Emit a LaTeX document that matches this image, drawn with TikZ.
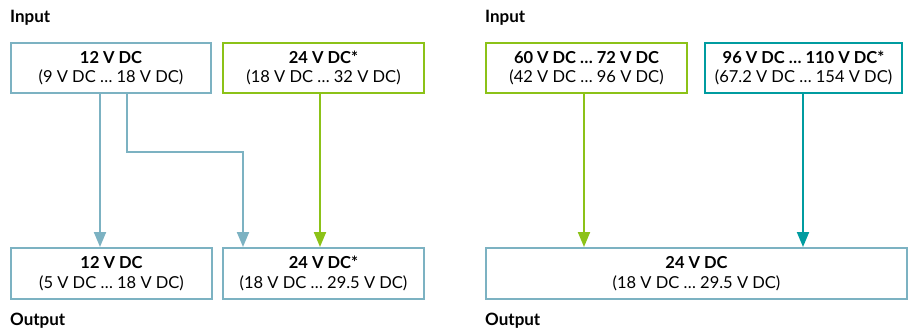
\documentclass[tikz,border=0pt]{standalone}
\usepackage{fontspec}
\setmainfont{Lato}
\usepackage{tikz}
\usetikzlibrary{positioning, arrows.meta, calc}
\definecolor{LineBlue}{RGB}{124, 178, 194}
\definecolor{LineGreen}{RGB}{140, 194, 24}
\definecolor{LineTeal}{RGB}{0, 156, 160}

\begin{document}
\begin{tikzpicture}[
    x=1pt, y=-1pt,
    box/.style={rectangle, draw, line width=2pt, minimum height=50pt, inner sep=0pt,
      align=center, font=\fontsize{16.5}{19.5}\selectfont},
    bluebox/.style={box, draw=LineBlue},
    greenbox/.style={box, draw=LineGreen},
    tealbox/.style={box, draw=LineTeal},
    title/.style={anchor=base west, inner sep=0pt, font=\fontsize{17}{20}\selectfont\bfseries},
    arrow/.style={-{Triangle[width=12pt, length=15pt]}, line width=2pt}
  ]
    \useasboundingbox (0,0) rectangle (910,327);

    % Left: inputs
    \node[title] (inl) at (10,22) {Input};
    \node[bluebox, minimum width=200pt] (in12) at (111,68) {\textbf{12 V DC}\\(9 V DC … 18 V DC)};
    \node[greenbox, minimum width=201pt] (in24) at (323.5,68) {\textbf{24 V DC*}\\(18 V DC … 32 V DC)};

    % Left: outputs
    \node[bluebox, minimum width=201pt, minimum height=51pt] (out12) at (111.5,273.5) {\textbf{12 V DC}\\(5 V DC … 18 V DC)};
    \node[bluebox, minimum width=201pt, minimum height=51pt] (out24) at (323.5,273.5) {\textbf{24 V DC*}\\(18 V DC … 29.5 V DC)};
    \node[title] (outl) at (10,325) {Output};

    % Left: connections
    \draw[arrow, LineBlue] ([xshift=-11pt]in12.south) -- ([xshift=-11pt]in12.south |- out12.north);
    \draw[arrow, LineBlue] ([xshift=16pt]in12.south) -- ++(0,58) -| ([xshift=-80.5pt]out24.north);
    \draw[arrow, LineGreen] ([xshift=-3.5pt]in24.south) -- ([xshift=-3.5pt]in24.south |- out24.north);

    % Right: inputs
    \node[title] (inr) at (485,22) {Input};
    \node[greenbox, minimum width=201pt] (in60) at (586.5,68) {\textbf{60 V DC … 72 V DC}\\(42 V DC … 96 V DC)};
    \node[tealbox, minimum width=197pt] (in96) at (803.5,68) {\textbf{96 V DC … 110 V DC*}\\(67.2 V DC … 154 V DC)};

    % Right: output
    \node[bluebox, minimum width=421pt, minimum height=51pt] (outr) at (696.5,273.5) {\textbf{24 V DC}\\(18 V DC … 29.5 V DC)};
    \node[title] (outrl) at (485,325) {Output};

    % Right: connections
    \draw[arrow, LineGreen] ([xshift=-2.5pt]in60.south) -- ([xshift=-2.5pt]in60.south |- outr.north);
    \draw[arrow, LineTeal] ([xshift=-0.5pt]in96.south) -- ([xshift=-0.5pt]in96.south |- outr.north);
  \end{tikzpicture}
\end{document}
